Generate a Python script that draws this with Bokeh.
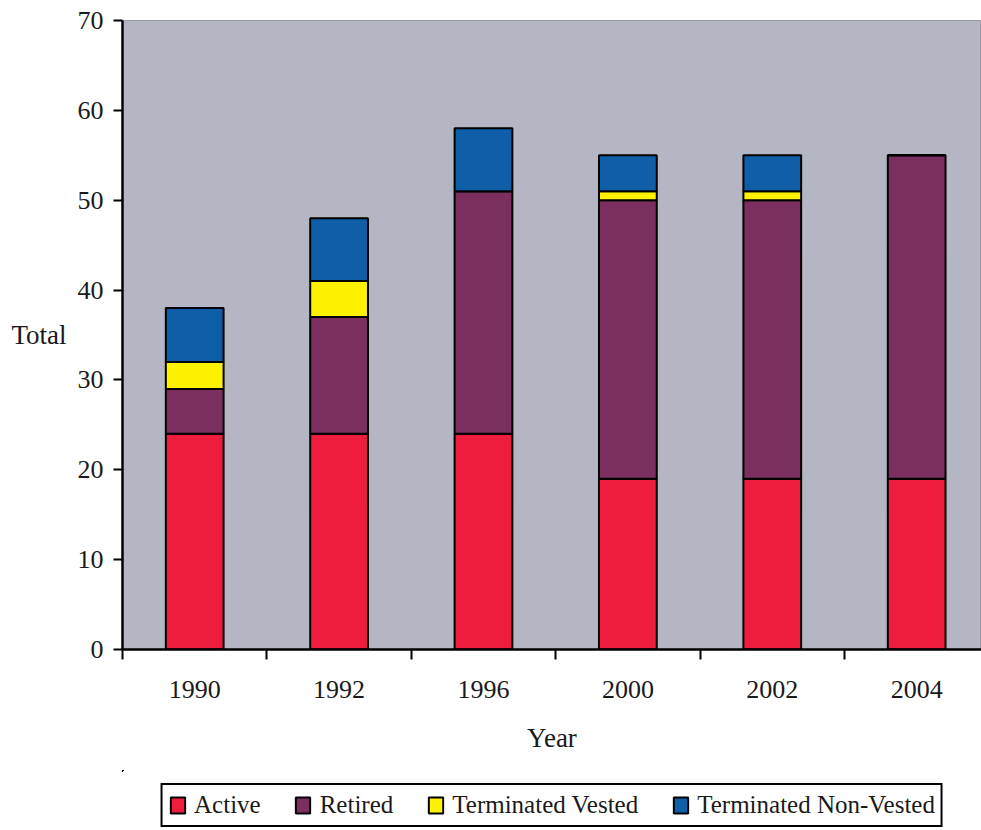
from bokeh.plotting import figure
from bokeh.layouts import column
from bokeh.models import ColumnDataSource, FixedTicker, Range1d, Legend, LegendItem
from bokeh.embed import file_html
from bokeh.resources import INLINE

# Plan membership by year
years = ["1990", "1992", "1996", "2000", "2002", "2004"]
active = [24, 24, 24, 19, 19, 19]
retired = [5, 13, 27, 31, 31, 36]
term_vested = [3, 4, 0, 1, 1, 0]
term_non_vested = [6, 7, 7, 4, 4, 0]

series = ["Active", "Retired", "Terminated Vested", "Terminated Non-Vested"]
colors = ["#ee1d3d", "#7b2f5e", "#fff200", "#0f5ea8"]
y_ticks = [0, 10, 20, 30, 40, 50, 60, 70]

FONT = "Liberation Serif"

pos = list(range(len(years)))
source = ColumnDataSource(dict(
    x=pos,
    Active=active,
    Retired=retired,
    **{"Terminated Vested": term_vested, "Terminated Non-Vested": term_non_vested},
))

p = figure(
    width=981, height=770,
    output_backend="svg", toolbar_location=None,
    x_range=Range1d(-0.5, 5.449), y_range=Range1d(0, 70),
    min_border_left=122, min_border_top=20, min_border_right=0,
    min_border_bottom=121,
)
p.background_fill_color = "#b5b6c3"
p.border_fill_color = "white"
p.outline_line_color = "#9a9aa6"
p.outline_line_width = 1
p.grid.visible = False

bar_style = dict(width=0.4, fill_color=colors, line_color="black", line_width=2)
p.vbar_stack(series, x="x", source=source, **bar_style)

# Category labels centred, tick marks at category boundaries
p.xaxis.ticker = FixedTicker(ticks=pos, minor_ticks=[i - 0.5 for i in range(len(years) + 1)])
p.xaxis.major_label_overrides = {i: y for i, y in enumerate(years)}
p.xaxis.major_tick_line_color = None
p.xaxis.minor_tick_line_color = "black"
p.xaxis.minor_tick_line_width = 2
p.xaxis.minor_tick_out = 10
p.xaxis.minor_tick_in = 0
p.xaxis.major_label_standoff = 21
p.xaxis.axis_label = "Year"
p.xaxis.axis_label_standoff = 22

p.yaxis.ticker = FixedTicker(ticks=y_ticks)
p.yaxis.minor_tick_line_color = None
p.yaxis.major_tick_line_color = "black"
p.yaxis.major_tick_line_width = 2
p.yaxis.major_tick_out = 9
p.yaxis.major_tick_in = 0
p.yaxis.major_label_standoff = 10
p.yaxis.axis_label = "Total"
p.yaxis.axis_label_orientation = "horizontal"
p.yaxis.axis_label_standoff = 8

for ax in (p.xaxis, p.yaxis):
    ax.axis_line_color = "black"
    ax.axis_line_width = 2.5
    ax.major_label_text_font = FONT
    ax.major_label_text_font_size = "26px"
    ax.major_label_text_color = "#1a1a1a"
    ax.axis_label_text_font = FONT
    ax.axis_label_text_font_size = "27px"
    ax.axis_label_text_font_style = "normal"
    ax.axis_label_text_color = "#1a1a1a"

# Legend strip under the chart. The same stacked bars are attached here with
# ranges that lie outside the data, so only their legend swatches are seen.
lg = figure(
    width=981, height=60, output_backend="svg", toolbar_location=None,
    x_range=Range1d(100, 101), y_range=Range1d(-200, -100),
    x_axis_type=None, y_axis_type=None,
    min_border=0, outline_line_color=None,
)
lg.grid.visible = False
swatches = lg.vbar_stack(series, x="x", source=source, **bar_style)
legend = Legend(
    items=[LegendItem(label=s, renderers=[r]) for s, r in zip(series, swatches)],
    orientation="horizontal", location="bottom_center",
    label_text_font=FONT, label_text_font_size="25px", label_text_color="#1a1a1a",
    glyph_width=18, glyph_height=20, label_standoff=8, spacing=33,
    padding=6, margin=3,
    border_line_color="black", border_line_width=2, border_line_alpha=1,
    background_fill_color="white", background_fill_alpha=1,
)
lg.add_layout(legend, "center")

layout = column(p, lg, spacing=0)
open("out.html", "w").write(file_html(layout, INLINE))
